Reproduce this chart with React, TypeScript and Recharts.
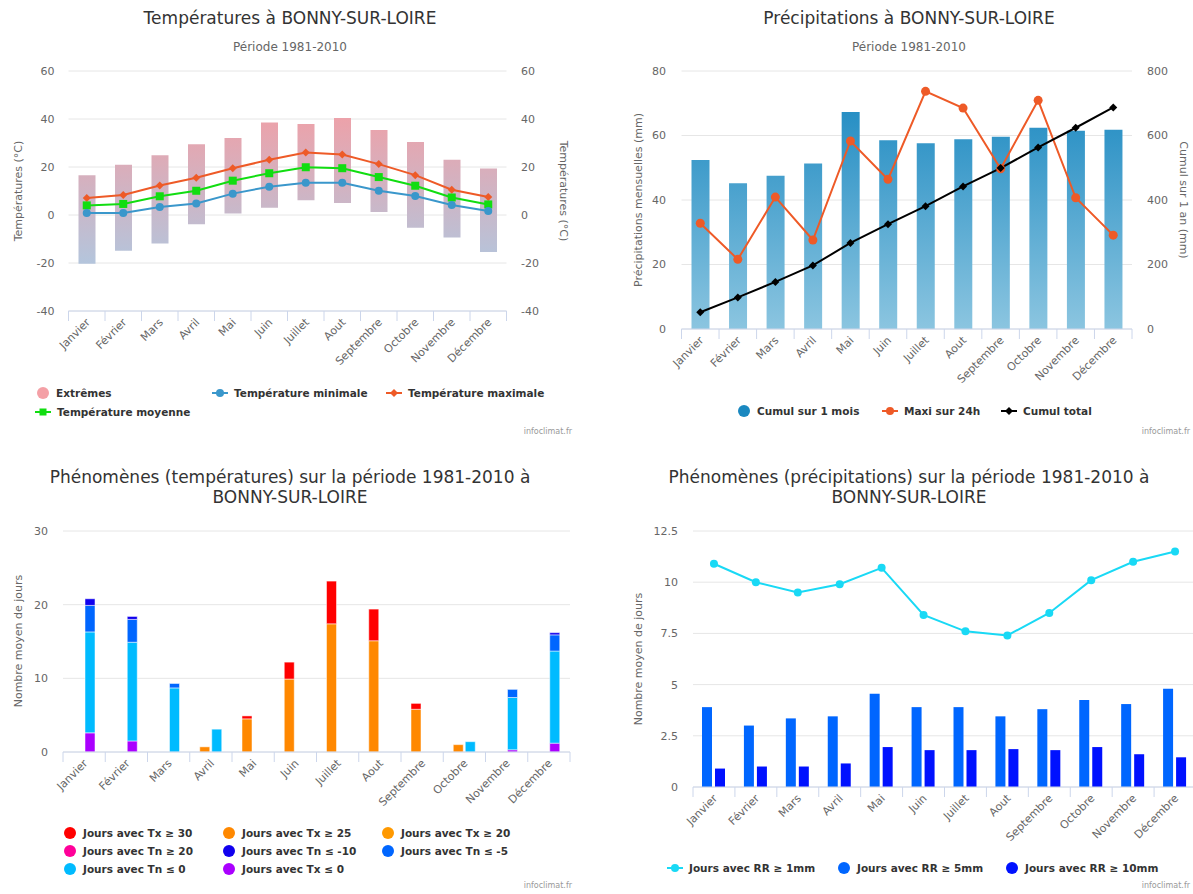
import React from 'react';
import { ComposedChart, Bar, Line, XAxis, YAxis, CartesianGrid } from 'recharts';

const months = ['Janvier', 'Février', 'Mars', 'Avril', 'Mai', 'Juin', 'Juillet', 'Aout', 'Septembre', 'Octobre', 'Novembre', 'Décembre'];

// Températures (°C)
const extLow = [-20.3, -14.9, -11.9, -3.9, 0.6, 3.0, 6.1, 5.0, 1.2, -5.3, -9.4, -15.4];
const extHigh = [16.6, 20.9, 24.9, 29.5, 32.1, 38.5, 37.9, 40.4, 35.4, 30.4, 23.0, 19.4];
const tMin = [0.8, 0.8, 3.3, 4.8, 8.9, 11.8, 13.4, 13.4, 10.1, 7.9, 4.2, 1.7];
const tMoy = [4.0, 4.6, 7.8, 10.1, 14.3, 17.4, 19.9, 19.5, 15.8, 12.2, 7.3, 4.4];
const tMax = [7.1, 8.3, 12.3, 15.5, 19.5, 23.0, 26.0, 25.2, 21.2, 16.6, 10.5, 7.5];

// Précipitations (mm)
const rrMois = [52.4, 45.2, 47.5, 51.3, 67.3, 58.5, 57.6, 58.8, 59.6, 62.4, 61.5, 61.8];
const rrMax24 = [32.8, 21.6, 40.9, 27.6, 58.3, 46.4, 73.7, 68.5, 49.7, 70.9, 40.7, 29.1];
const rrCumul = [52, 98, 146, 197, 267, 325, 381, 442, 499, 563, 624, 687];

// Phénomènes températures (jours, segments empilés)
const tx30 = [0, 0, 0, 0, 0.4, 2.3, 5.8, 4.3, 0.8, 0, 0, 0];
const tx25 = [0, 0, 0, 0.7, 4.5, 9.9, 17.4, 15.1, 5.8, 1.0, 0, 0];
const tx20 = [0, 0, 0, 0, 0, 0, 0, 0, 0, 0, 0, 0];
const tn20 = [0, 0, 0, 0, 0, 0, 0, 0, 0, 0, 0, 0];
const tnM10 = [0.9, 0.4, 0, 0, 0, 0, 0, 0, 0, 0, 0, 0.3];
const tnM5 = [3.6, 3.1, 0.6, 0, 0, 0, 0, 0, 0, 0, 1.1, 2.2];
const tn0 = [13.7, 13.4, 8.7, 3.1, 0, 0, 0, 0, 0, 1.4, 7.1, 12.5];
const txLe0 = [2.6, 1.5, 0, 0, 0, 0, 0, 0, 0, 0, 0.3, 1.2];

// Phénomènes précipitations (jours)
const rr1 = [10.9, 10.0, 9.5, 9.9, 10.7, 8.4, 7.6, 7.4, 8.5, 10.1, 11.0, 11.5];
const rr5 = [3.9, 3.0, 3.35, 3.45, 4.55, 3.9, 3.9, 3.45, 3.8, 4.25, 4.05, 4.8];
const rr10 = [0.9, 1.0, 1.0, 1.15, 1.95, 1.8, 1.8, 1.85, 1.8, 1.95, 1.6, 1.45];

const tempData = months.map((m, i) => ({ month: m, ext: [extLow[i], extHigh[i]], min: tMin[i], moy: tMoy[i], max: tMax[i] }));
const rrData = months.map((m, i) => ({ month: m, mois: rrMois[i], max24: rrMax24[i], cumul: rrCumul[i] }));
const phenoT = months.map((m, i) => ({ month: m, tx30: tx30[i], tx25: tx25[i], tx20: tx20[i], tn20: tn20[i], tnM10: tnM10[i], tnM5: tnM5[i], tn0: tn0[i], txLe0: txLe0[i] }));
const phenoR = months.map((m, i) => ({ month: m, rr1: rr1[i], rr5: rr5[i], rr10: rr10[i] }));

const TXT = '#666666';
const GRID = '#e6e6e6';
const AXIS = '#ccd6eb';
const C_MIN = '#3a97cb';
const C_MAX = '#ee5a27';
const C_MOY = '#11dd11';

function Marker({ cx, cy, kind, size, color }: any) {
  if (cx == null || cy == null) return null;
  if (kind === 'square') return <rect x={cx - size} y={cy - size} width={size * 2} height={size * 2} fill={color} />;
  if (kind === 'diamond') return <path d={`M${cx},${cy - size}L${cx + size},${cy}L${cx},${cy + size}L${cx - size},${cy}Z`} fill={color} />;
  return <circle cx={cx} cy={cy} r={size} fill={color} />;
}

const dotOf = (kind: string, size: number, color: string) => (p: any) => (
  <Marker key={`d${p.index}`} cx={p.cx} cy={p.cy} kind={kind} size={size} color={color} />
);

// month labels rotated, tick marks on category boundaries
function monthTick(band: number) {
  return (props: any) => {
    const { x, y, payload, index } = props;
    return (
      <g>
        <line x1={x - band / 2} x2={x - band / 2} y1={y} y2={y + 10} stroke={AXIS} />
        {index === 11 && <line x1={x + band / 2} x2={x + band / 2} y1={y} y2={y + 10} stroke={AXIS} />}
        <text transform={`translate(${x + 4},${y + 12}) rotate(-45)`} textAnchor="end" fontSize={11} fill={TXT}>
          {payload.value}
        </text>
      </g>
    );
  };
}

function Txt({ cx, cy, text, size, color, rotate = 0 }: any) {
  return (
    <div
      style={{
        position: 'absolute', left: cx, top: cy, whiteSpace: 'nowrap', fontSize: size, color, lineHeight: 1,
        transform: `translate(-50%,-50%) rotate(${rotate}deg)`,
      }}
    >
      {text}
    </div>
  );
}

function LegendItem({ x, y, label, color, kind }: any) {
  const col = kind === 'col';
  return (
    <div style={{ position: 'absolute', left: x, top: y - 6, height: 12, display: 'flex', alignItems: 'center', whiteSpace: 'nowrap', fontSize: 10.5, fontWeight: 'bold', color: '#333' }}>
      <svg width={col ? 12 : 16} height={12} style={{ marginRight: col ? 7 : 6, flex: 'none' }}>
        {col ? (
          <circle cx={6} cy={6} r={6} fill={color} />
        ) : (
          <>
            <line x1={0} x2={16} y1={6} y2={6} stroke={color} strokeWidth={2} />
            <Marker cx={8} cy={6} kind={kind} size={kind === 'square' ? 3.5 : 4} color={color} />
          </>
        )}
      </svg>
      <span>{label}</span>
    </div>
  );
}

const yTick = { fill: TXT, fontSize: 11 };

export default function App() {
  return (
    <div style={{ position: 'absolute', left: 0, top: 0, width: 1193, height: 894, overflow: 'hidden', background: '#fff', fontFamily: '"DejaVu Sans", sans-serif' }}>
      {/* Températures */}
      <div style={{ position: 'absolute', left: 0, top: 0 }}>
        <ComposedChart width={596} height={440} data={tempData} margin={{ top: 71, right: 39.5, bottom: 99, left: 18.5 }}>
          <defs>
            <linearGradient id="extGrad" gradientUnits="userSpaceOnUse" x1={0} y1={119} x2={0} y2={263}>
              <stop offset="0" stopColor="#eca2aa" />
              <stop offset="1" stopColor="#b4c5dc" />
            </linearGradient>
          </defs>
          <CartesianGrid vertical={false} stroke={GRID} yAxisId="l" />
          <XAxis dataKey="month" interval={0} height={30} tickLine={false} tickSize={0} tickMargin={0} stroke={AXIS} tick={monthTick(438 / 12)} />
          <YAxis yAxisId="l" width={50} domain={[-40, 60]} ticks={[-40, -20, 0, 20, 40, 60]} axisLine={false} tickLine={false} tickMargin={8} tick={yTick} />
          <YAxis yAxisId="r" orientation="right" width={50} domain={[-40, 60]} ticks={[-40, -20, 0, 20, 40, 60]} allowDataOverflow axisLine={false} tickLine={false} tickMargin={8.5} tick={yTick} />
          <Bar yAxisId="l" dataKey="ext" barSize={17} fill="url(#extGrad)" isAnimationActive={false} />
          <Line yAxisId="l" dataKey="max" stroke={C_MAX} strokeWidth={2} dot={dotOf('diamond', 4, C_MAX)} activeDot={false} isAnimationActive={false} />
          <Line yAxisId="l" dataKey="moy" stroke={C_MOY} strokeWidth={2} dot={dotOf('square', 4, C_MOY)} activeDot={false} isAnimationActive={false} />
          <Line yAxisId="l" dataKey="min" stroke={C_MIN} strokeWidth={2} dot={dotOf('circle', 4, C_MIN)} activeDot={false} isAnimationActive={false} />
        </ComposedChart>
      </div>
      <Txt cx={290} cy={18} text="Températures à BONNY-SUR-LOIRE" size={17} color="#333" />
      <Txt cx={290} cy={47} text="Période 1981-2010" size={12} color={TXT} />
      <Txt cx={18} cy={191} text="Températures (°C)" size={11} color={TXT} rotate={-90} />
      <Txt cx={563} cy={191} text="Températures (°C)" size={11} color={TXT} rotate={90} />
      <LegendItem x={37} y={393} label="Extrêmes" color="#f4a0a6" kind="col" />
      <LegendItem x={212} y={393} label="Température minimale" color={C_MIN} kind="circle" />
      <LegendItem x={386} y={393} label="Température maximale" color={C_MAX} kind="diamond" />
      <LegendItem x={35} y={411.5} label="Température moyenne" color={C_MOY} kind="square" />
      <div style={{ position: 'absolute', right: 1193 - 572, top: 427, fontSize: 8, color: '#999' }}>infoclimat.fr</div>

      {/* Précipitations */}
      <div style={{ position: 'absolute', left: 596, top: 0 }}>
        <ComposedChart width={596} height={440} data={rrData} margin={{ top: 71, right: 10, bottom: 81, left: 35.5 }}>
          <defs>
            <linearGradient id="rrGrad" gradientUnits="userSpaceOnUse" x1={0} y1={71} x2={0} y2={329}>
              <stop offset="0" stopColor="#1585bf" />
              <stop offset="1" stopColor="#8bc5e0" />
            </linearGradient>
          </defs>
          <CartesianGrid vertical={false} stroke={GRID} yAxisId="l" />
          <XAxis dataKey="month" interval={0} height={30} tickLine={false} tickSize={0} tickMargin={0} stroke={AXIS} tick={monthTick(450.5 / 12)} />
          <YAxis yAxisId="l" width={50} domain={[0, 80]} ticks={[0, 20, 40, 60, 80]} axisLine={false} tickLine={false} tickMargin={9.5} tick={yTick} />
          <YAxis yAxisId="r" orientation="right" width={50} domain={[0, 800]} ticks={[0, 200, 400, 600, 800]} axisLine={false} tickLine={false} tickMargin={9} tick={yTick} />
          <Bar yAxisId="l" dataKey="mois" barSize={18} fill="url(#rrGrad)" isAnimationActive={false} />
          <Line yAxisId="l" dataKey="max24" stroke={C_MAX} strokeWidth={2} dot={dotOf('circle', 4.5, C_MAX)} activeDot={false} isAnimationActive={false} />
          <Line yAxisId="r" dataKey="cumul" stroke="#000" strokeWidth={2} dot={dotOf('diamond', 4, '#000')} activeDot={false} isAnimationActive={false} />
        </ComposedChart>
      </div>
      <Txt cx={909} cy={18} text="Précipitations à BONNY-SUR-LOIRE" size={17} color="#333" />
      <Txt cx={909} cy={47} text="Période 1981-2010" size={12} color={TXT} />
      <Txt cx={638} cy={200} text="Précipitations mensuelles (mm)" size={11} color={TXT} rotate={-90} />
      <Txt cx={1183} cy={200} text="Cumul sur 1 an (mm)" size={11} color={TXT} rotate={90} />
      <LegendItem x={738} y={410.7} label="Cumul sur 1 mois" color="#1a88c0" kind="col" />
      <LegendItem x={882} y={410.7} label="Maxi sur 24h" color={C_MAX} kind="circle" />
      <LegendItem x={1001} y={410.7} label="Cumul total" color="#000" kind="diamond" />
      <div style={{ position: 'absolute', right: 3, top: 427, fontSize: 8, color: '#999' }}>infoclimat.fr</div>

      {/* Phénomènes (températures) */}
      <div style={{ position: 'absolute', left: 0, top: 450 }}>
        <ComposedChart width={596} height={444} data={phenoT} margin={{ top: 81, right: 26, bottom: 112, left: 23 }} barGap={2}>
          <CartesianGrid vertical={false} stroke={GRID} />
          <XAxis dataKey="month" interval={0} height={30} tickLine={false} tickSize={0} tickMargin={0} stroke={AXIS} tick={monthTick(507 / 12)} />
          <YAxis width={40} domain={[0, 30]} ticks={[0, 10, 20, 30]} axisLine={false} tickLine={false} tickMargin={9} tick={yTick} />
          <Bar dataKey="tx20" stackId="tx" barSize={10} fill="#ff9900" stroke="#fff" strokeWidth={0.5} isAnimationActive={false} />
          <Bar dataKey="tx25" stackId="tx" barSize={10} fill="#ff8800" stroke="#fff" strokeWidth={0.5} isAnimationActive={false} />
          <Bar dataKey="tx30" stackId="tx" barSize={10} fill="#ff0000" stroke="#fff" strokeWidth={0.5} isAnimationActive={false} />
          <Bar dataKey="txLe0" stackId="tn" barSize={10} fill="#aa00ff" stroke="#fff" strokeWidth={0.5} isAnimationActive={false} />
          <Bar dataKey="tn0" stackId="tn" barSize={10} fill="#00bbff" stroke="#fff" strokeWidth={0.5} isAnimationActive={false} />
          <Bar dataKey="tnM5" stackId="tn" barSize={10} fill="#0066ff" stroke="#fff" strokeWidth={0.5} isAnimationActive={false} />
          <Bar dataKey="tnM10" stackId="tn" barSize={10} fill="#1100ee" stroke="#fff" strokeWidth={0.5} isAnimationActive={false} />
          <Bar dataKey="tn20" stackId="tn" barSize={10} fill="#ff0099" stroke="#fff" strokeWidth={0.5} isAnimationActive={false} />
        </ComposedChart>
      </div>
      <Txt cx={290} cy={477} text="Phénomènes (températures) sur la période 1981-2010 à" size={17} color="#333" />
      <Txt cx={290} cy={497} text="BONNY-SUR-LOIRE" size={17} color="#333" />
      <Txt cx={18} cy={641} text="Nombre moyen de jours" size={11} color={TXT} rotate={-90} />
      <LegendItem x={64} y={833.3} label="Jours avec Tx ≥ 30" color="#ff0000" kind="col" />
      <LegendItem x={223} y={833.3} label="Jours avec Tx ≥ 25" color="#ff8800" kind="col" />
      <LegendItem x={382} y={833.3} label="Jours avec Tx ≥ 20" color="#ff9900" kind="col" />
      <LegendItem x={64} y={851} label="Jours avec Tn ≥ 20" color="#ff0099" kind="col" />
      <LegendItem x={223} y={851} label="Jours avec Tn ≤ -10" color="#1100ee" kind="col" />
      <LegendItem x={382} y={851} label="Jours avec Tn ≤ -5" color="#0066ff" kind="col" />
      <LegendItem x={64} y={868.7} label="Jours avec Tn ≤ 0" color="#00bbff" kind="col" />
      <LegendItem x={223} y={868.7} label="Jours avec Tx ≤ 0" color="#aa00ff" kind="col" />
      <div style={{ position: 'absolute', right: 1193 - 572, top: 881, fontSize: 8, color: '#999' }}>infoclimat.fr</div>

      {/* Phénomènes (précipitations) */}
      <div style={{ position: 'absolute', left: 596, top: 450 }}>
        <ComposedChart width={620} height={444} data={phenoR} margin={{ top: 81, right: 20, bottom: 77, left: 47 }} barGap={3}>
          <CartesianGrid vertical={false} stroke={GRID} />
          <XAxis dataKey="month" interval={0} height={30} tickLine={false} tickSize={0} tickMargin={0} stroke={AXIS} tick={monthTick(503 / 12)} />
          <YAxis width={50} domain={[0, 12.5]} ticks={[0, 2.5, 5, 7.5, 10, 12.5]} axisLine={false} tickLine={false} tickMargin={9} tick={yTick} />
          <Bar dataKey="rr5" barSize={10} fill="#0066ff" isAnimationActive={false} />
          <Bar dataKey="rr10" barSize={10} fill="#0011ff" isAnimationActive={false} />
          <Line dataKey="rr1" stroke="#19d9f5" strokeWidth={2} dot={dotOf('circle', 4, '#19d9f5')} activeDot={false} isAnimationActive={false} />
        </ComposedChart>
      </div>
      <Txt cx={909} cy={477} text="Phénomènes (précipitations) sur la période 1981-2010 à" size={17} color="#333" />
      <Txt cx={909} cy={497} text="BONNY-SUR-LOIRE" size={17} color="#333" />
      <Txt cx={638} cy={659} text="Nombre moyen de jours" size={11} color={TXT} rotate={-90} />
      <LegendItem x={667} y={868.3} label="Jours avec RR ≥ 1mm" color="#19d9f5" kind="circle" />
      <LegendItem x={838} y={868.3} label="Jours avec RR ≥ 5mm" color="#0066ff" kind="col" />
      <LegendItem x={1006} y={868.3} label="Jours avec RR ≥ 10mm" color="#0011ff" kind="col" />
      <div style={{ position: 'absolute', right: 3, top: 881, fontSize: 8, color: '#999' }}>infoclimat.fr</div>
    </div>
  );
}
